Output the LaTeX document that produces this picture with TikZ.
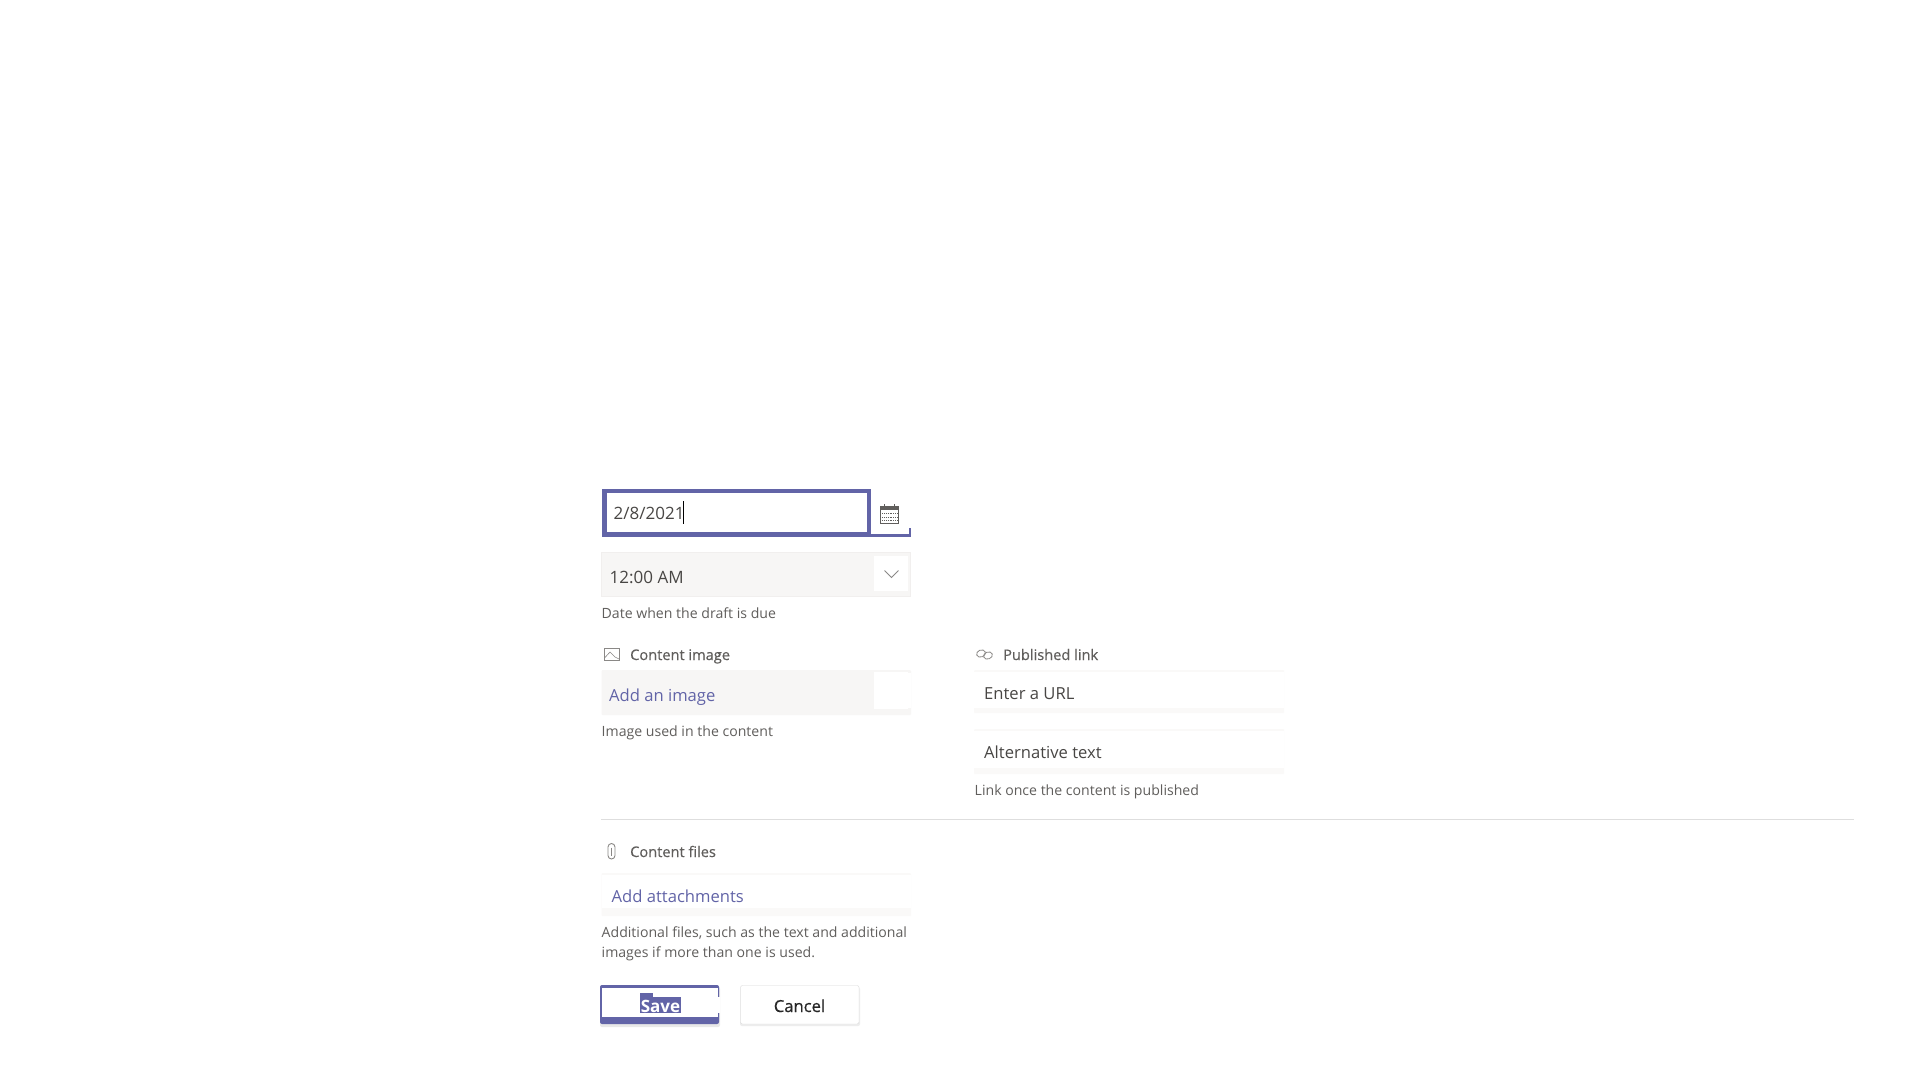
\documentclass[tikz,border=0pt]{standalone}
\usepackage{fontspec}
\usepackage{xcolor}
\setmainfont{Open Sans}
\newfontfamily\labelfont[FakeBold=0.5]{Open Sans}
\definecolor{teamspurple}{HTML}{6264A7}
\definecolor{fieldgray}{HTML}{F7F6F5}
\definecolor{fieldpale}{HTML}{FAF9F8}
\definecolor{fieldedge}{HTML}{F1EFEE}
\definecolor{labelgray}{HTML}{484644}
\definecolor{helpgray}{HTML}{605E5C}
\definecolor{icongray}{HTML}{8A8886}
\usetikzlibrary{positioning, calc}
\tikzset{
  fieldtext/.style={anchor=base west, inner sep=0pt, text=labelgray, font=\fontsize{16.6}{20}\selectfont},
  linktext/.style={fieldtext, text=teamspurple},
  labeltext/.style={anchor=base west, inner sep=0pt, text=helpgray, font=\labelfont\fontsize{14.6}{18}\selectfont},
  helptext/.style={anchor=base west, inner sep=0pt, text=helpgray, align=left, font=\fontsize{14.1}{20}\selectfont},
  icon/.style={icongray, line width=0.9pt},
}

\begin{document}
\begin{tikzpicture}[x=1pt, y=-1pt]
  \useasboundingbox (0,0) rectangle (1920,1080);
  \fill[white] (0,0) rectangle (1920,1080);

  % Date field
  \fill[teamspurple] (602,489) rectangle (871,537);
  \fill[teamspurple] (871,534) rectangle (911,537);
  \fill[teamspurple] (908.5,528) rectangle (911,537);
  \fill[white] (607,493) rectangle (867,532);
  \node[fieldtext, font=\fontsize{17}{20}\selectfont] (datetext) at (613.5,519) {2/8/2021};
  \draw[black, line width=0.8pt] (683.5,501) -- (683.5,524);

  % Calendar icon
  \draw[helpgray, line width=0.9pt] (880,506) rectangle (898,523);
  \fill[helpgray] (880,506) rectangle (898,510);
  \draw[helpgray, line width=0.9pt, densely dotted] (880,513.5) -- (898,513.5);
  \draw[helpgray, line width=0.9pt, densely dotted] (880,517) -- (898,517);
  \draw[helpgray, line width=0.9pt, densely dotted] (880,520.5) -- (898,520.5);
  \draw[helpgray, line width=0.9pt] (884,504) -- (884,506);
  \draw[helpgray, line width=0.9pt] (894,504) -- (894,506);

  % Time field
  \draw[fieldedge, fill=fieldgray] (601.5,552.5) rectangle (910.5,596.5);
  \fill[white] (874,556) rectangle (908,591);
  \draw[icon, line width=0.8pt] (884.5,570.5) -- (891.5,577.5) -- (898.5,570.5);
  \node[fieldtext, font=\fontsize{17}{20}\selectfont] (timetext) at (609.5,583) {12:00 AM};
  \node[helptext] (datehelp) at (601.5,618.5) {Date when the draft is due};

  % Content image
  \draw[icon] (604,648.5) rectangle (619.5,660);
  \draw[icon, line width=0.6pt] (604.5,658) -- (610,652) -- (615,657) -- (619,659);
  \node[labeltext] (imagelabel) at (630,660) {Content image};
  \fill[fieldgray, rounded corners=1pt] (601.5,670) rectangle (911,715);
  \fill[white] (874,672) rectangle (908,709);
  \fill[white] (908,673) rectangle (911,708);
  \node[linktext] (imagetext) at (609,701) {Add an image};
  \node[helptext] (imagehelp) at (601.5,736) {Image used in the content};

  % Published link
  \draw[icon, line width=0.8pt, rotate around={20:(981,653.5)}] (981,653.5) ellipse (4.5pt and 3.5pt);
  \draw[icon, line width=0.8pt, rotate around={20:(988,655.5)}] (988,655.5) ellipse (4.5pt and 3.5pt);
  \node[labeltext] (linklabel) at (1003,660) {Published link};
  \fill[fieldpale, rounded corners=1pt] (974,670) rectangle (1284,713);
  \fill[white] (974,671.5) rectangle (1284,708);
  \node[fieldtext] (urltext) at (984,699) {Enter a URL};
  \fill[fieldpale, rounded corners=1pt] (974,729) rectangle (1284,774);
  \fill[white] (974,730.5) rectangle (1284,768);
  \node[fieldtext] (alttext) at (984,758) {Alternative text};
  \node[helptext] (linkhelp) at (974.5,795) {Link once the content is published};

  % Divider
  \draw[black!13, line width=1pt] (601,819.5) -- (1854,819.5);

  % Content files
  \draw[icon] (608,847) arc[start angle=180, end angle=0, radius=3.5pt] -- (615,855.5) arc[start angle=0, end angle=-180, radius=3.5pt] -- cycle;
  \draw[icon, line width=0.7pt] (611.5,847.5) -- (611.5,855.5);
  \node[labeltext] (fileslabel) at (630,857) {Content files};
  \fill[fieldpale, rounded corners=1pt] (601.5,873) rectangle (911,916);
  \fill[white] (601.5,874.5) rectangle (911,908);
  \node[linktext] (filestext) at (611.5,902) {Add attachments};
  \node[helptext] (fileshelp) at (601.5,957) {Additional files, such as the text and additional\\images if more than one is used.};

  % Save button
  \fill[black!9, rounded corners=2pt] (600,987) rectangle (720,1027);
  \fill[teamspurple, rounded corners=2pt] (600,985) rectangle (719,1024);
  \fill[white] (602,988) rectangle (718,1017);
  \fill[white] (718,997) rectangle (720,1013);
  \fill[teamspurple] (640,997) rectangle (681,1013);
  \fill[teamspurple] (640,993) rectangle (653,997);
  \node[anchor=base, inner sep=0pt, text=white, font=\fontsize{17}{20}\selectfont\bfseries] (savetext) at (660.5,1012) {Save};

  % Cancel button
  \fill[black!7, rounded corners=2pt] (740,987) rectangle (860,1026);
  \draw[black!15, fill=white, rounded corners=2pt] (740.5,985.5) rectangle (859,1024);
  \node[anchor=base, inner sep=0pt, text=black!85, font=\labelfont\fontsize{16.6}{20}\selectfont] (canceltext) at (799.5,1012) {Cancel};
\end{tikzpicture}
\end{document}
